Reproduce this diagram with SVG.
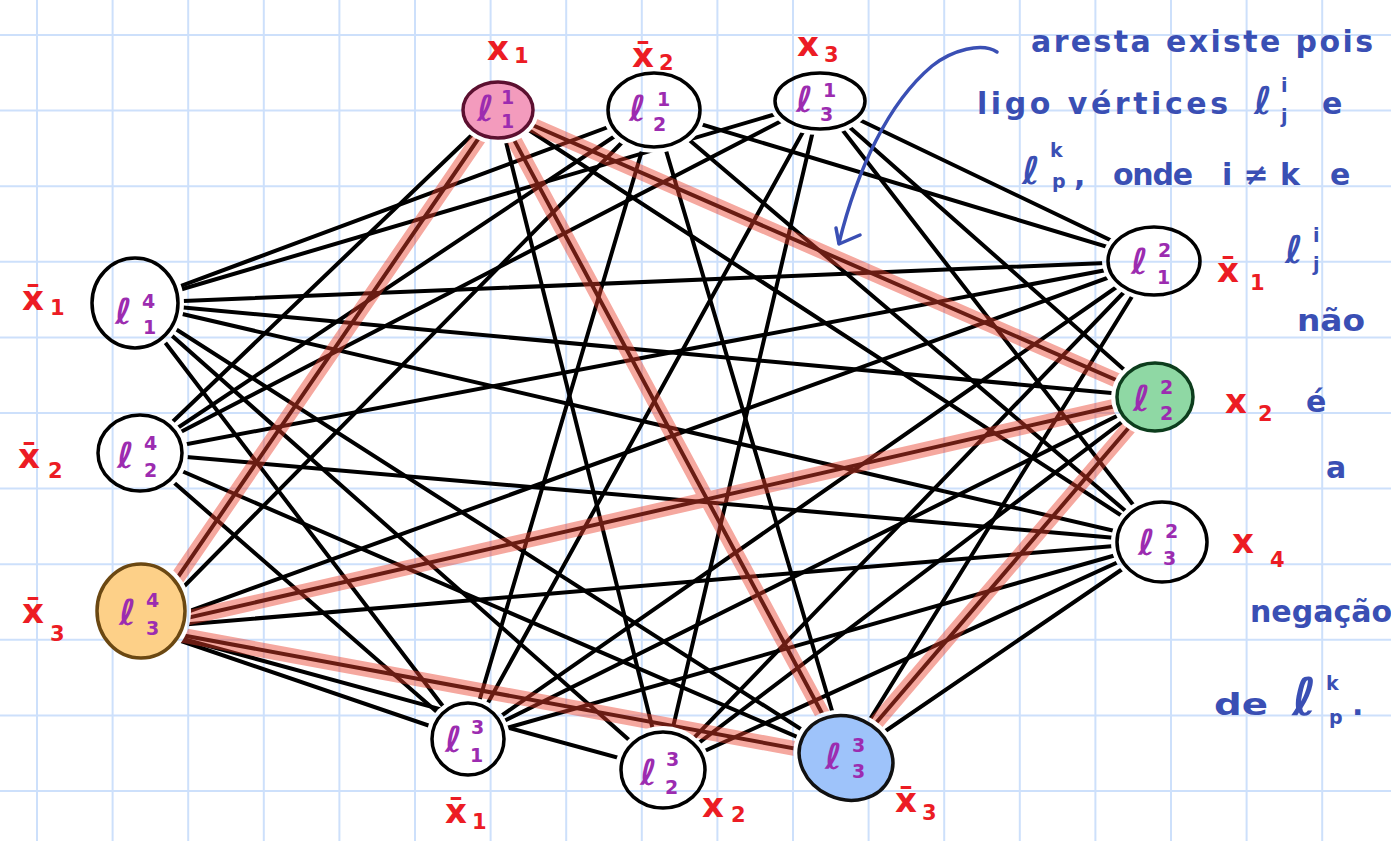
<svg xmlns="http://www.w3.org/2000/svg" width="1391" height="841" viewBox="0 0 1391 841">
<style>
.grid line{stroke:#cde0fb;stroke-width:2}
.edge line{stroke:#000;stroke-width:4;stroke-linecap:round}
.hl line{stroke:#e93e2c;stroke-width:15;stroke-linecap:round}
.nd{stroke:#000;stroke-width:3.5;fill:none}
.lab{font-family:"DejaVu Sans",sans-serif;fill:#9c2cb0;font-weight:bold}
.big{font-size:36px}
.small{font-size:19px}
.red{font-family:"DejaVu Sans",sans-serif;fill:#ec1c24;font-size:34px;font-weight:bold}
.red .s{font-size:21px}
.blue{font-family:"DejaVu Sans",sans-serif;fill:#3a4fb4;font-size:30px;font-weight:bold}
.blue .s{font-size:19px}
.blue .l{font-size:38px}
</style>
<defs>
<mask id="m" maskUnits="userSpaceOnUse" x="0" y="0" width="1391" height="841">
<rect x="0" y="0" width="1391" height="841" fill="#fff"/>
<g fill="#000">
<ellipse cx="498" cy="110" rx="41" ry="34"/>
<ellipse cx="654" cy="110" rx="52" ry="43"/>
<ellipse cx="820" cy="101" rx="51" ry="34"/>
<ellipse cx="1154" cy="261" rx="52" ry="40"/>
<ellipse cx="1155" cy="397" rx="44" ry="40"/>
<ellipse cx="1162" cy="542" rx="51" ry="46"/>
<ellipse cx="468" cy="739" rx="42" ry="42"/>
<ellipse cx="663" cy="770" rx="48" ry="44"/>
<ellipse cx="846" cy="758" rx="54" ry="47" transform="rotate(25 846 758)"/>
<ellipse cx="135" cy="303" rx="49" ry="51"/>
<ellipse cx="140" cy="453" rx="48" ry="44"/>
<ellipse cx="141" cy="611" rx="50" ry="53"/>
</g>
</mask>
</defs>
<rect x="0" y="0" width="1391" height="841" fill="#fff"/>
<g class="grid">
<line x1="37" y1="0" x2="37" y2="841"/><line x1="112.6" y1="0" x2="112.6" y2="841"/><line x1="188.2" y1="0" x2="188.2" y2="841"/><line x1="263.8" y1="0" x2="263.8" y2="841"/><line x1="339.4" y1="0" x2="339.4" y2="841"/><line x1="415" y1="0" x2="415" y2="841"/><line x1="490.6" y1="0" x2="490.6" y2="841"/><line x1="566.2" y1="0" x2="566.2" y2="841"/><line x1="641.8" y1="0" x2="641.8" y2="841"/><line x1="717.4" y1="0" x2="717.4" y2="841"/><line x1="793" y1="0" x2="793" y2="841"/><line x1="868.6" y1="0" x2="868.6" y2="841"/><line x1="944.2" y1="0" x2="944.2" y2="841"/><line x1="1019.8" y1="0" x2="1019.8" y2="841"/><line x1="1095.4" y1="0" x2="1095.4" y2="841"/><line x1="1171" y1="0" x2="1171" y2="841"/><line x1="1246.6" y1="0" x2="1246.6" y2="841"/><line x1="1322.2" y1="0" x2="1322.2" y2="841"/>
<line x1="0" y1="35" x2="1391" y2="35"/><line x1="0" y1="110.6" x2="1391" y2="110.6"/><line x1="0" y1="186.2" x2="1391" y2="186.2"/><line x1="0" y1="261.8" x2="1391" y2="261.8"/><line x1="0" y1="337.4" x2="1391" y2="337.4"/><line x1="0" y1="413" x2="1391" y2="413"/><line x1="0" y1="488.6" x2="1391" y2="488.6"/><line x1="0" y1="564.2" x2="1391" y2="564.2"/><line x1="0" y1="639.8" x2="1391" y2="639.8"/><line x1="0" y1="715.4" x2="1391" y2="715.4"/><line x1="0" y1="791" x2="1391" y2="791"/>
</g>
<g id="connectors" mask="url(#m)">
<g class="edge">
<line x1="498" y1="110" x2="1155" y2="397"/>
<line x1="498" y1="110" x2="1162" y2="542"/>
<line x1="498" y1="110" x2="663" y2="770"/>
<line x1="498" y1="110" x2="846" y2="758"/>
<line x1="498" y1="110" x2="140" y2="453"/>
<line x1="498" y1="110" x2="143" y2="628"/>
<line x1="654" y1="110" x2="1154" y2="261"/>
<line x1="654" y1="110" x2="1162" y2="542"/>
<line x1="654" y1="110" x2="468" y2="739"/>
<line x1="654" y1="110" x2="846" y2="758"/>
<line x1="654" y1="110" x2="135" y2="303"/>
<line x1="654" y1="110" x2="140" y2="453"/>
<line x1="654" y1="110" x2="143" y2="628"/>
<line x1="820" y1="101" x2="1154" y2="261"/>
<line x1="820" y1="101" x2="1155" y2="397"/>
<line x1="820" y1="101" x2="1162" y2="542"/>
<line x1="820" y1="101" x2="468" y2="739"/>
<line x1="820" y1="101" x2="663" y2="770"/>
<line x1="820" y1="101" x2="135" y2="303"/>
<line x1="820" y1="101" x2="140" y2="453"/>
<line x1="1154" y1="261" x2="468" y2="739"/>
<line x1="1154" y1="261" x2="663" y2="770"/>
<line x1="1154" y1="261" x2="846" y2="758"/>
<line x1="1154" y1="261" x2="135" y2="303"/>
<line x1="1154" y1="261" x2="140" y2="453"/>
<line x1="1154" y1="261" x2="143" y2="628"/>
<line x1="1155" y1="397" x2="468" y2="739"/>
<line x1="1155" y1="397" x2="663" y2="770"/>
<line x1="1155" y1="397" x2="846" y2="758"/>
<line x1="1155" y1="397" x2="135" y2="303"/>
<line x1="1155" y1="397" x2="143" y2="628"/>
<line x1="1162" y1="542" x2="468" y2="739"/>
<line x1="1162" y1="542" x2="663" y2="770"/>
<line x1="1162" y1="542" x2="846" y2="758"/>
<line x1="1162" y1="542" x2="135" y2="303"/>
<line x1="1162" y1="542" x2="140" y2="453"/>
<line x1="1162" y1="542" x2="143" y2="628"/>
<line x1="468" y1="739" x2="135" y2="303"/>
<line x1="468" y1="739" x2="140" y2="453"/>
<line x1="468" y1="739" x2="143" y2="628"/>
<line x1="663" y1="770" x2="135" y2="303"/>
<line x1="663" y1="770" x2="143" y2="628"/>
<line x1="846" y1="758" x2="135" y2="303"/>
<line x1="846" y1="758" x2="140" y2="453"/>
<line x1="846" y1="758" x2="143" y2="628"/>
</g>
<g class="hl" opacity="0.45">
<line x1="498" y1="110" x2="143" y2="628"/>
<line x1="498" y1="110" x2="846" y2="758"/>
<line x1="498" y1="110" x2="1155" y2="397"/>
<line x1="1155" y1="397" x2="143" y2="628"/>
<line x1="1155" y1="397" x2="846" y2="758"/>
<line x1="143" y1="628" x2="846" y2="758"/>
</g>
</g>
<g id="n-l11"><ellipse cx="498" cy="110" rx="35" ry="28" fill="#f39bbd" stroke="#5c1030" stroke-width="3.5"/><text class="lab" x="477" y="121" fill="#b0309a"><tspan class="big">ℓ</tspan><tspan class="small" x="501" y="104">1</tspan><tspan class="small" x="501" y="128">1</tspan></text></g>
<g id="n-l21"><ellipse class="nd" cx="654" cy="110" rx="46" ry="37"/><text class="lab" x="629" y="121"><tspan class="big">ℓ</tspan><tspan class="small" x="657" y="106">1</tspan><tspan class="small" x="653" y="131">2</tspan></text></g>
<g id="n-l31"><ellipse class="nd" cx="820" cy="101" rx="45" ry="28"/><text class="lab" x="796" y="112"><tspan class="big">ℓ</tspan><tspan class="small" x="823" y="97">1</tspan><tspan class="small" x="820" y="121">3</tspan></text></g>
<g id="n-l12"><ellipse class="nd" cx="1154" cy="261" rx="46" ry="34"/><text class="lab" x="1131" y="274"><tspan class="big">ℓ</tspan><tspan class="small" x="1158" y="257">2</tspan><tspan class="small" x="1157" y="284">1</tspan></text></g>
<g id="n-l22"><ellipse cx="1155" cy="397" rx="38" ry="34" fill="#8fd8a4" stroke="#0d3d1d" stroke-width="3.5"/><text class="lab" x="1133" y="411" fill="#55556e"><tspan class="big">ℓ</tspan><tspan class="small" x="1160" y="394">2</tspan><tspan class="small" x="1160" y="420">2</tspan></text></g>
<g id="n-l32"><ellipse class="nd" cx="1162" cy="542" rx="45" ry="40"/><text class="lab" x="1138" y="555"><tspan class="big">ℓ</tspan><tspan class="small" x="1165" y="538">2</tspan><tspan class="small" x="1163" y="565">3</tspan></text></g>
<g id="n-l13"><ellipse class="nd" cx="468" cy="739" rx="36" ry="36"/><text class="lab" x="445" y="752"><tspan class="big">ℓ</tspan><tspan class="small" x="471" y="734">3</tspan><tspan class="small" x="470" y="762">1</tspan></text></g>
<g id="n-l23"><ellipse class="nd" cx="663" cy="770" rx="42" ry="38"/><text class="lab" x="640" y="785"><tspan class="big">ℓ</tspan><tspan class="small" x="666" y="766">3</tspan><tspan class="small" x="665" y="794">2</tspan></text></g>
<g id="n-l33"><ellipse cx="846" cy="758" rx="48" ry="41" transform="rotate(25 846 758)" fill="#9ec3fa" stroke="#111" stroke-width="3.5"/><text class="lab" x="825" y="769" fill="#6a4ad0"><tspan class="big">ℓ</tspan><tspan class="small" x="852" y="752">3</tspan><tspan class="small" x="852" y="778">3</tspan></text></g>
<g id="n-l14"><ellipse class="nd" cx="135" cy="303" rx="43" ry="45"/><text class="lab" x="115" y="324"><tspan class="big">ℓ</tspan><tspan class="small" x="142" y="308">4</tspan><tspan class="small" x="143" y="334">1</tspan></text></g>
<g id="n-l24"><ellipse class="nd" cx="140" cy="453" rx="42" ry="38"/><text class="lab" x="117" y="468"><tspan class="big">ℓ</tspan><tspan class="small" x="144" y="450">4</tspan><tspan class="small" x="144" y="477">2</tspan></text></g>
<g id="n-l34"><ellipse cx="141" cy="611" rx="44" ry="47" fill="#fdd088" stroke="#6b4812" stroke-width="3.5"/><text class="lab" x="119" y="625" fill="#c85a78"><tspan class="big">ℓ</tspan><tspan class="small" x="146" y="607">4</tspan><tspan class="small" x="146" y="635">3</tspan></text></g>
<g id="literals">
<text class="red" x="487" y="60">x<tspan class="s" x="514" y="63">1</tspan></text>
<text class="red" x="632" y="67">x̄<tspan class="s" x="659" y="70">2</tspan></text>
<text class="red" x="797" y="56">x<tspan class="s" x="824" y="62">3</tspan></text>
<text class="red" x="1217" y="282">x̄<tspan class="s" x="1250" y="290">1</tspan></text>
<text class="red" x="1225" y="413">x<tspan class="s" x="1258" y="421">2</tspan></text>
<text class="red" x="1232" y="553">x<tspan class="s" x="1270" y="567">4</tspan></text>
<text class="red" x="22" y="310">x̄<tspan class="s" x="50" y="315">1</tspan></text>
<text class="red" x="18" y="468">x̄<tspan class="s" x="48" y="478">2</tspan></text>
<text class="red" x="22" y="623">x̄<tspan class="s" x="50" y="641">3</tspan></text>
<text class="red" x="445" y="823">x̄<tspan class="s" x="472" y="829">1</tspan></text>
<text class="red" x="702" y="817">x<tspan class="s" x="731" y="822">2</tspan></text>
<text class="red" x="895" y="812">x̄<tspan class="s" x="922" y="820">3</tspan></text>
</g>
<g id="note">
<path d="M997,52 C982,42 952,50 932,66 C888,103 857,170 839,243" fill="none" stroke="#3a4fb4" stroke-width="3.5" stroke-linecap="round"/>
<path d="M836,228 L839,244 L860,235" fill="none" stroke="#3a4fb4" stroke-width="3.5" stroke-linecap="round" stroke-linejoin="round"/>
<text class="blue" x="1031" y="52" textLength="342" lengthAdjust="spacing">aresta existe pois</text>
<text class="blue" y="114"><tspan x="977" textLength="251" lengthAdjust="spacing">ligo vértices</tspan><tspan class="l" x="1254">ℓ</tspan><tspan class="s" x="1281" y="92">i</tspan><tspan class="s" x="1281" y="123">j</tspan><tspan x="1322" y="114">e</tspan></text>
<text class="blue" y="184"><tspan class="l" x="1022">ℓ</tspan><tspan class="s" x="1050" y="157">k</tspan><tspan class="s" x="1052" y="188">p</tspan><tspan x="1074" y="186">,</tspan><tspan x="1113" y="185" textLength="80" lengthAdjust="spacing">onde</tspan><tspan x="1222" y="185" textLength="78" lengthAdjust="spacing">i≠k</tspan><tspan x="1330" y="185">e</tspan></text>
<text class="blue" y="263"><tspan class="l" x="1285">ℓ</tspan><tspan class="s" x="1313" y="242">i</tspan><tspan class="s" x="1313" y="271">j</tspan></text>
<text class="blue" x="1297" y="331" textLength="68" lengthAdjust="spacingAndGlyphs">não</text>
<text class="blue" x="1306" y="412">é</text>
<text class="blue" x="1326" y="478">a</text>
<text class="blue" x="1250" y="622" font-size="23">negação</text>
<text class="blue" y="715" font-size="40"><tspan x="1214" textLength="54" lengthAdjust="spacingAndGlyphs">de</tspan><tspan x="1292" font-size="52">ℓ</tspan><tspan class="s" x="1326" y="690">k</tspan><tspan class="s" x="1329" y="724">p</tspan><tspan x="1352" y="715">.</tspan></text>
</g>
</svg>
